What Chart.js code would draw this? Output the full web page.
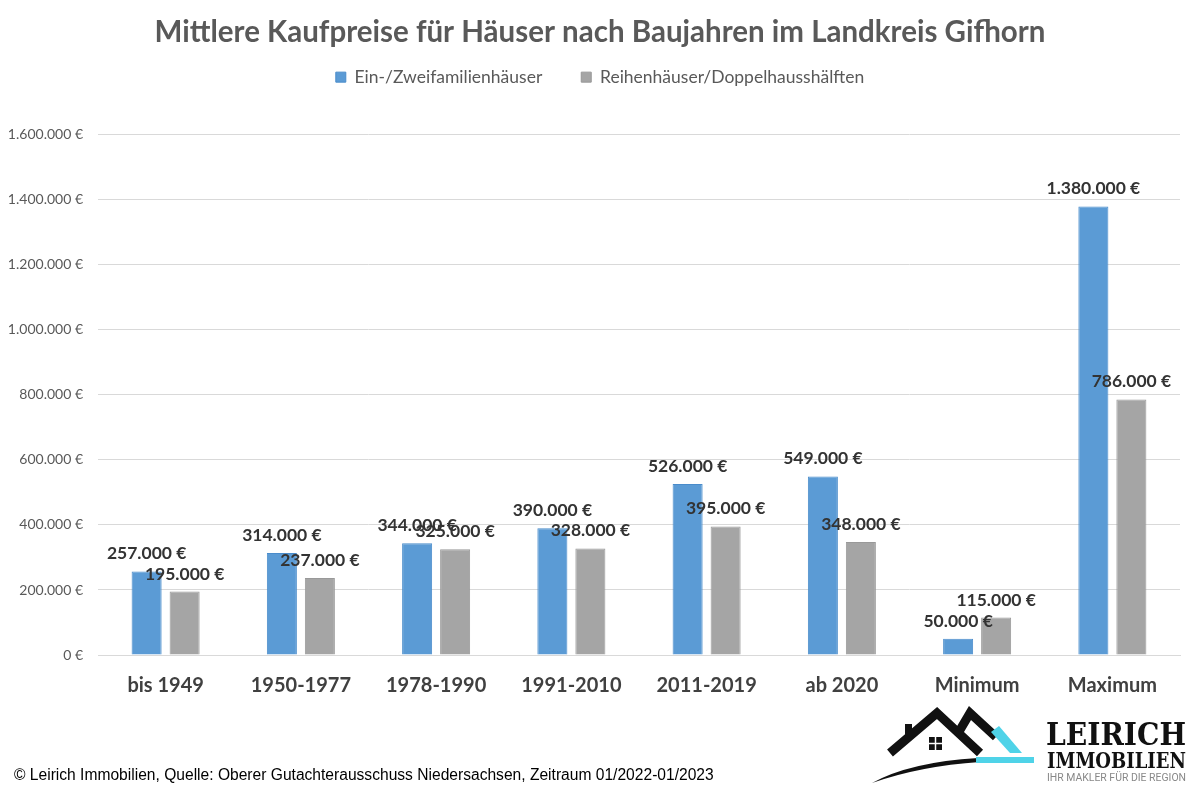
<!DOCTYPE html>
<html lang="de">
<head>
<meta charset="utf-8">
<script src="https://cdn.jsdelivr.net/npm/chart.js@4.4.0/dist/chart.umd.min.js"></script>
<style>
  html, body { margin: 0; padding: 0; background: #fff; }
  #wrap { position: relative; width: 1200px; height: 797px; overflow: hidden; }
  #chart { position: absolute; left: 0; top: 0; }
  #footer {
    position: absolute; left: 14px; top: 766px;
    font-family: "Liberation Sans Narrow", "Liberation Sans", Arial, sans-serif;
    font-size: 15.6px; color: #000; white-space: nowrap;
  }
  #logo { position: absolute; left: 860px; top: 700px; }
</style>
</head>
<body>
<div id="wrap">
  <canvas id="chart" width="1200" height="797"></canvas>
  <div id="footer">© Leirich Immobilien, Quelle: Oberer Gutachterausschuss Niedersachsen, Zeitraum 01/2022-01/2023</div>
  <svg id="logo" width="340" height="97" viewBox="0 0 340 97">
    <!-- left roof -->
    <polyline points="30,53 77,13 120,53" fill="none" stroke="#111" stroke-width="9" stroke-linejoin="miter"/>
    <rect x="45" y="24" width="7" height="14" fill="#111"/>
    <!-- right roof -->
    <polyline points="97,35 110,13 136,37" fill="none" stroke="#111" stroke-width="9"/>
    <polygon points="131,32 139,26 162,53 150,53" fill="#4fd3e8"/>
    <!-- window -->
    <rect x="69" y="37" width="13" height="13" fill="#111"/>
    <line x1="75.5" y1="37" x2="75.5" y2="50" stroke="#fff" stroke-width="1.5"/>
    <line x1="69" y1="43.5" x2="82" y2="43.5" stroke="#fff" stroke-width="1.5"/>
    <!-- swoosh -->
    <path d="M12,83 Q50,62 118,58 L120,62 Q60,66 12,83 Z" fill="#111"/>
    <rect x="116" y="57" width="58" height="6" fill="#4fd3e8"/>
    <text x="186" y="45" font-family="DejaVu Serif" font-weight="bold" font-size="32" fill="#111"
          textLength="140" lengthAdjust="spacingAndGlyphs">LEIRICH</text>
    <text x="187" y="68" font-family="DejaVu Serif" font-weight="bold" font-size="23" fill="#111"
          textLength="139" lengthAdjust="spacingAndGlyphs">IMMOBILIEN</text>
    <text x="187" y="81" font-family="Roboto, sans-serif" font-size="10" fill="#888"
          textLength="139" lengthAdjust="spacingAndGlyphs">IHR MAKLER FÜR DIE REGION</text>
  </svg>
</div>
<script>
const categories = ["bis 1949", "1950-1977", "1978-1990", "1991-2010", "2011-2019", "ab 2020", "Minimum", "Maximum"];
const einZweiValues = [257000, 314000, 344000, 390000, 526000, 549000, 50000, 1380000];
const reihenValues = [195000, 237000, 325000, 328000, 395000, 348000, 115000, 786000];
const seriesNames = ["Ein-/Zweifamilienhäuser", "Reihenhäuser/Doppelhausshälften"];
const yMax = 1600000;
const yStep = 200000;

const fmt = v => v.toLocaleString("de-DE") + " €";
const FONT = "Lato, 'Open Sans', sans-serif";

// value labels above each bar
const barLabels = {
  id: "barLabels",
  afterDatasetsDraw(chart) {
    const ctx = chart.ctx;
    ctx.save();
    ctx.font = "bold 17.5px " + FONT;
    ctx.fillStyle = "#333333";
    ctx.textAlign = "center";
    ctx.textBaseline = "bottom";
    chart.data.datasets.forEach((ds, i) => {
      chart.getDatasetMeta(i).data.forEach((bar, j) => {
        ctx.fillText(fmt(ds.data[j]), bar.x, bar.y - 9);
      });
    });
    ctx.restore();
  }
};

// empty boxes: gap under the legend, margin right of the plot
const GAP = 39;
const RIGHT = 20;
const spacers = {
  id: "spacers",
  beforeInit(chart) {
    Chart.layouts.addBox(chart, {
      position: "top",
      weight: 0,
      fullSize: true,
      options: {},
      isHorizontal() { return true; },
      update(w) { this.width = w; this.height = GAP; },
      draw() {}
    });
    Chart.layouts.addBox(chart, {
      position: "right",
      weight: 100,
      fullSize: false,
      options: {},
      isHorizontal() { return false; },
      update(w, h) { this.width = RIGHT; this.height = h; },
      draw() {}
    });
  }
};

new Chart(document.getElementById("chart"), {
  type: "bar",
  data: {
    labels: categories,
    datasets: [
      {
        label: seriesNames[0],
        data: einZweiValues,
        backgroundColor: "#5b9bd5",
        borderColor: "#4a8ccb",
        borderWidth: 1,
        categoryPercentage: 0.562,
        barPercentage: 0.79
      },
      {
        label: seriesNames[1],
        data: reihenValues,
        backgroundColor: "#a5a5a5",
        borderColor: "#999999",
        borderWidth: 1,
        categoryPercentage: 0.562,
        barPercentage: 0.79
      }
    ]
  },
  options: {
    responsive: false,
    animation: false,
    layout: { padding: { left: 0, right: 0, top: 10, bottom: 92 } },
    plugins: {
      title: {
        display: true,
        text: "Mittlere Kaufpreise für Häuser nach Baujahren im Landkreis Gifhorn",
        color: "#595959",
        font: { family: FONT, size: 29.5, weight: "bold" },
        padding: { top: 5, bottom: -21 }
      },
      legend: {
        position: "top",
        labels: {
          color: "#595959",
          font: { family: FONT, size: 17.5 },
          boxWidth: 10,
          boxHeight: 10,
          padding: 39
        }
      },
      tooltip: { enabled: false }
    },
    scales: {
      x: {
        grid: { display: false },
        border: { color: "#d9d9d9" },
        ticks: {
          color: "#404040",
          font: { family: FONT, size: 20, weight: "bold" },
          padding: 11
        },
        afterFit(axis) { axis.height = 50; }
      },
      y: {
        min: 0,
        max: yMax,
        grid: { color: "#d9d9d9", drawTicks: false },
        border: { display: false },
        ticks: {
          stepSize: yStep,
          color: "#595959",
          font: { family: FONT, size: 14 },
          padding: 15,
          callback: v => fmt(v)
        },
        afterFit(axis) { axis.width = 98; }
      }
    }
  },
  plugins: [spacers, barLabels]
});
</script>
</body>
</html>
